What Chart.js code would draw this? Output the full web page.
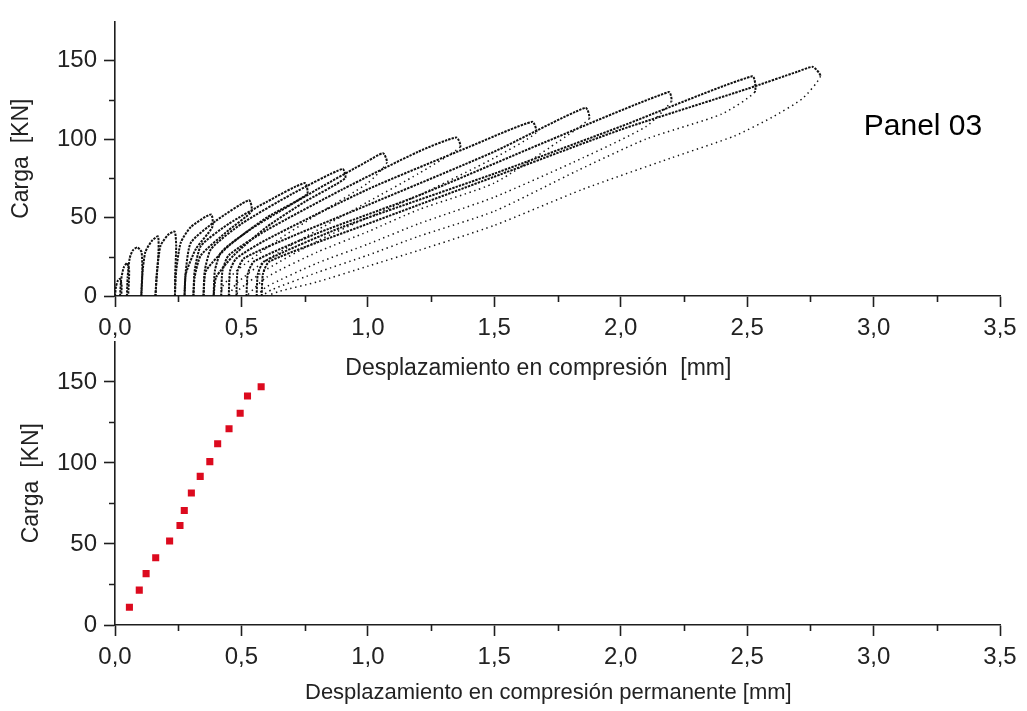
<!DOCTYPE html>
<html>
<head>
<meta charset="utf-8">
<script src="https://cdn.jsdelivr.net/npm/chart.js@4.4.1/dist/chart.umd.min.js"></script>
<style>
  html, body { margin: 0; padding: 0; background: #fff; }
  #wrap { position: relative; width: 1027px; height: 711px; overflow: hidden; }
  canvas { position: absolute; left: 0; }
  #chartTop { top: 0; z-index: 2; }
  #chartBottom { top: 320px; z-index: 1; }
</style>
</head>
<body>
<div id="wrap">
  <canvas id="chartBottom" width="1027" height="391"></canvas>
  <canvas id="chartTop" width="1027" height="385"></canvas>
</div>
<script>
// Ciclos carga/descarga (panel superior): pares [desplazamiento mm, carga KN]
var ciclo01 = [[0, 0], [0.004, 6], [0.012, 10], [0.02, 11], [0.026, 7], [0.025, 0]];
var ciclo02 = [[0.02, 0], [0.024, 10], [0.034, 18], [0.048, 21], [0.056, 16], [0.052, 0]];
var ciclo03 = [[0.047, 0], [0.05, 12], [0.058, 24], [0.07, 29], [0.088, 31], [0.105, 28], [0.108, 14], [0.104, 0]];
var ciclo04 = [[0.104, 0], [0.108, 14], [0.12, 28], [0.145, 35], [0.17, 38], [0.172, 28], [0.165, 12], [0.16, 0]];
var ciclo05 = [[0.16, 0], [0.165, 14], [0.18, 32], [0.21, 39], [0.236, 41], [0.242, 32], [0.238, 14], [0.237, 0]];
var ciclo06 = [[0.237, 0], [0.242, 16], [0.26, 34], [0.3, 44], [0.38, 52], [0.385, 44], [0.32, 30], [0.28, 14], [0.275, 0]];
var ciclo07 = [[0.275, 0], [0.28, 16], [0.3, 34], [0.4, 48], [0.53, 61], [0.54, 54], [0.45, 42], [0.34, 26], [0.315, 12], [0.31, 0]];
var ciclo08 = [[0.31, 0], [0.315, 16], [0.34, 32], [0.45, 46], [0.6, 60], [0.75, 72], [0.76, 65], [0.6, 50], [0.45, 32], [0.36, 16], [0.35, 0]];
var ciclo09 = [[0.35, 0], [0.355, 16], [0.38, 30], [0.5, 46], [0.7, 65], [0.9, 81], [0.91, 75], [0.75, 60], [0.6, 44], [0.47, 26], [0.4, 12], [0.39, 0]];
var ciclo10 = [[0.39, 0], [0.395, 16], [0.42, 28], [0.55, 44], [0.8, 68], [1.0, 86], [1.06, 91], [1.075, 85], [1.0, 72], [0.8, 52], [0.62, 33], [0.48, 16], [0.425, 6], [0.42, 0]];
var ciclo11 = [[0.42, 0], [0.425, 16], [0.45, 26], [0.6, 42], [0.9, 68], [1.2, 92], [1.35, 101], [1.365, 95], [1.2, 78], [1.0, 60], [0.8, 42], [0.6, 23], [0.48, 8], [0.45, 0]];
var ciclo12 = [[0.45, 0], [0.455, 16], [0.48, 24], [0.6, 36], [1.0, 68], [1.4, 95], [1.65, 111], [1.665, 104], [1.5, 88], [1.2, 64], [1.0, 50], [0.8, 35], [0.6, 17], [0.49, 4], [0.48, 0]];
var ciclo13 = [[0.48, 0], [0.485, 16], [0.51, 24], [0.7, 38], [1.0, 58], [1.5, 92], [1.86, 120], [1.875, 113], [1.75, 98], [1.5, 72], [1.2, 55], [1.0, 41], [0.8, 28], [0.6, 12], [0.52, 0]];
var ciclo14 = [[0.52, 0], [0.525, 14], [0.55, 22], [0.8, 40], [1.2, 64], [1.7, 98], [2.19, 130], [2.2, 124], [2.1, 108], [1.85, 88], [1.5, 63], [1.2, 46], [1.0, 33], [0.8, 21], [0.6, 6], [0.56, 0]];
var ciclo15 = [[0.56, 0], [0.565, 14], [0.59, 22], [0.9, 44], [1.5, 78], [2.0, 108], [2.52, 140], [2.53, 130], [2.4, 116], [2.1, 100], [1.83, 80], [1.5, 54], [1.2, 38], [1.0, 26], [0.8, 15], [0.62, 4], [0.58, 0]];
var ciclo16 = [[0.58, 0], [0.585, 14], [0.61, 22], [1.0, 46], [1.5, 76], [2.0, 106], [2.5, 132], [2.7, 143], [2.76, 146], [2.79, 140], [2.72, 126], [2.6, 114], [2.45, 102], [2.2, 88], [1.85, 68], [1.5, 45], [1.2, 29], [1.0, 19], [0.8, 9], [0.65, 3], [0.6, 0]];

// Desplazamiento permanente (panel inferior)
var permDespl = [0.057, 0.096, 0.123, 0.161, 0.216, 0.257, 0.274, 0.302, 0.337, 0.375, 0.406, 0.451, 0.495, 0.524, 0.578];
var permCarga = [11, 21.5, 31.7, 41.5, 51.8, 61.4, 70.7, 81.5, 91.7, 100.8, 111.8, 121.1, 130.7, 141.3, 147];

// Ticks
var xMajor = [0, 0.5, 1.0, 1.5, 2.0, 2.5, 3.0, 3.5];
var xLabels = ['0,0', '0,5', '1,0', '1,5', '2,0', '2,5', '3,0', '3,5'];
var yMajor = [0, 50, 100, 150];
var yLabels = ['0', '50', '100', '150'];

var ciclos = [ciclo01, ciclo02, ciclo03, ciclo04, ciclo05, ciclo06, ciclo07, ciclo08,
              ciclo09, ciclo10, ciclo11, ciclo12, ciclo13, ciclo14, ciclo15, ciclo16];

var axisColor = '#1e1e1e';
var fontFamily = "'Liberation Sans', Arial, sans-serif";

Chart.defaults.font.family = fontFamily;
Chart.defaults.color = axisColor;
Chart.defaults.animation = false;

function findIndex(list, v) {
    for (var i = 0; i < list.length; i++) {
        if (Math.abs(list[i] - v) < 1e-6) return i;
    }
    return -1;
}

// dense loading branch, sparse unloading branch on the big cycles
function cycleDataset(points) {
    var peak = 0;
    points.forEach(function(p, i) {
        if (p[1] > points[peak][1]) peak = i;
    });
    var sparse = points[peak][1] >= 85;
    return {
        data: points.map(function(p) { return { x: p[0], y: p[1] }; }),
        showLine: true,
        pointRadius: 0,
        borderColor: '#111',
        borderWidth: 2,
        borderDash: [2.4, 1.1],
        tension: 0.2,
        segment: {
            borderDash: function(ctx) {
                return (sparse && ctx.p0DataIndex > peak) ? [1.4, 3.6] : undefined;
            },
            borderWidth: function(ctx) {
                return (sparse && ctx.p0DataIndex > peak) ? 1.5 : undefined;
            }
        }
    };
}

// minor ticks are shorter than the labelled ones
var minorTicks = {
    id: 'minorTicks',
    afterDraw: function(chart) {
        var ctx = chart.ctx;
        var area = chart.chartArea;
        var xs = chart.scales.x;
        var ys = chart.scales.y;
        ctx.save();
        ctx.strokeStyle = axisColor;
        ctx.lineWidth = 1.6;
        ctx.beginPath();
        xs.ticks.forEach(function(t) {
            if (findIndex(xMajor, t.value) < 0) {
                var px = Math.round(xs.getPixelForValue(t.value)) + 0.5;
                ctx.moveTo(px, area.bottom);
                ctx.lineTo(px, area.bottom + 6);
            }
        });
        ys.ticks.forEach(function(t) {
            if (findIndex(yMajor, t.value) < 0 && t.value < 175) {
                var py = Math.round(ys.getPixelForValue(t.value)) + 0.5;
                ctx.moveTo(area.left, py);
                ctx.lineTo(area.left - 6, py);
            }
        });
        ctx.stroke();
        ctx.restore();
    }
};

var panelLabel = {
    id: 'panelLabel',
    afterDraw: function(chart) {
        var ctx = chart.ctx;
        ctx.save();
        ctx.fillStyle = '#000';
        ctx.font = '30px ' + fontFamily;
        ctx.textAlign = 'center';
        ctx.textBaseline = 'middle';
        ctx.fillText('Panel 03', 923, 127);
        ctx.restore();
    }
};

function axes(opts) {
    return {
        x: {
            type: 'linear',
            min: 0,
            max: 3.5,
            afterFit: function(scale) { scale.height = opts.xHeight; },
            border: { display: true, color: axisColor, width: 1.6 },
            grid: {
                drawOnChartArea: false,
                tickLength: 11,
                tickWidth: 1.6,
                tickColor: function(ctx) {
                    return findIndex(xMajor, ctx.tick.value) >= 0 ? axisColor : 'rgba(0,0,0,0)';
                }
            },
            ticks: {
                stepSize: 0.25,
                padding: 7,
                font: { size: 24 },
                color: '#222',
                maxRotation: 0,
                autoSkip: false,
                callback: function(v) {
                    var i = findIndex(xMajor, v);
                    return i >= 0 ? xLabels[i] : '';
                }
            },
            title: {
                display: true,
                text: opts.xTitle,
                font: { size: opts.xTitleSize },
                color: '#222',
                padding: { top: 0, bottom: opts.xTitlePad }
            }
        },
        y: {
            type: 'linear',
            min: 0,
            max: 175,
            afterFit: function(scale) { scale.width = 115; },
            border: { display: true, color: axisColor, width: 1.6 },
            grid: {
                drawOnChartArea: false,
                tickLength: 11,
                tickWidth: 1.6,
                tickColor: function(ctx) {
                    return findIndex(yMajor, ctx.tick.value) >= 0 ? axisColor : 'rgba(0,0,0,0)';
                }
            },
            ticks: {
                stepSize: 25,
                padding: 7,
                font: { size: 24 },
                color: '#222',
                autoSkip: false,
                callback: function(v) {
                    var i = findIndex(yMajor, v);
                    return i >= 0 ? yLabels[i] : '';
                }
            },
            title: {
                display: true,
                text: 'Carga  [KN]',
                font: { size: 23 },
                color: '#222',
                padding: { top: opts.yTitlePad, bottom: 0 }
            }
        }
    };
}

// trailing spaces nudge the centred axis titles a little to the left, as in the original
new Chart(document.getElementById('chartTop'), {
    type: 'scatter',
    data: { datasets: ciclos.map(cycleDataset) },
    options: {
        responsive: false,
        layout: { padding: { top: 10, right: 27, left: 0, bottom: 0 } },
        plugins: { legend: { display: false }, tooltip: { enabled: false } },
        scales: axes({ xHeight: 89, xTitle: 'Desplazamiento en compresión  [mm]      ', xTitleSize: 23, xTitlePad: 3, yTitlePad: 8 })
    },
    plugins: [minorTicks, panelLabel]
});

new Chart(document.getElementById('chartBottom'), {
    type: 'scatter',
    data: {
        datasets: [{
            data: permDespl.map(function(x, i) { return { x: x, y: permCarga[i] }; }),
            pointStyle: 'rect',
            pointRadius: 5,
            pointBorderWidth: 0,
            backgroundColor: '#dc0a1e',
            borderColor: '#dc0a1e'
        }]
    },
    options: {
        responsive: false,
        layout: { padding: { top: 17, right: 27, left: 0, bottom: 0 } },
        plugins: { legend: { display: false }, tooltip: { enabled: false } },
        scales: axes({ xHeight: 86, xTitle: 'Desplazamiento en compresión permanente [mm]   ', xTitleSize: 22, xTitlePad: 5, yTitlePad: 18 })
    },
    plugins: [minorTicks]
});
</script>
</body>
</html>
